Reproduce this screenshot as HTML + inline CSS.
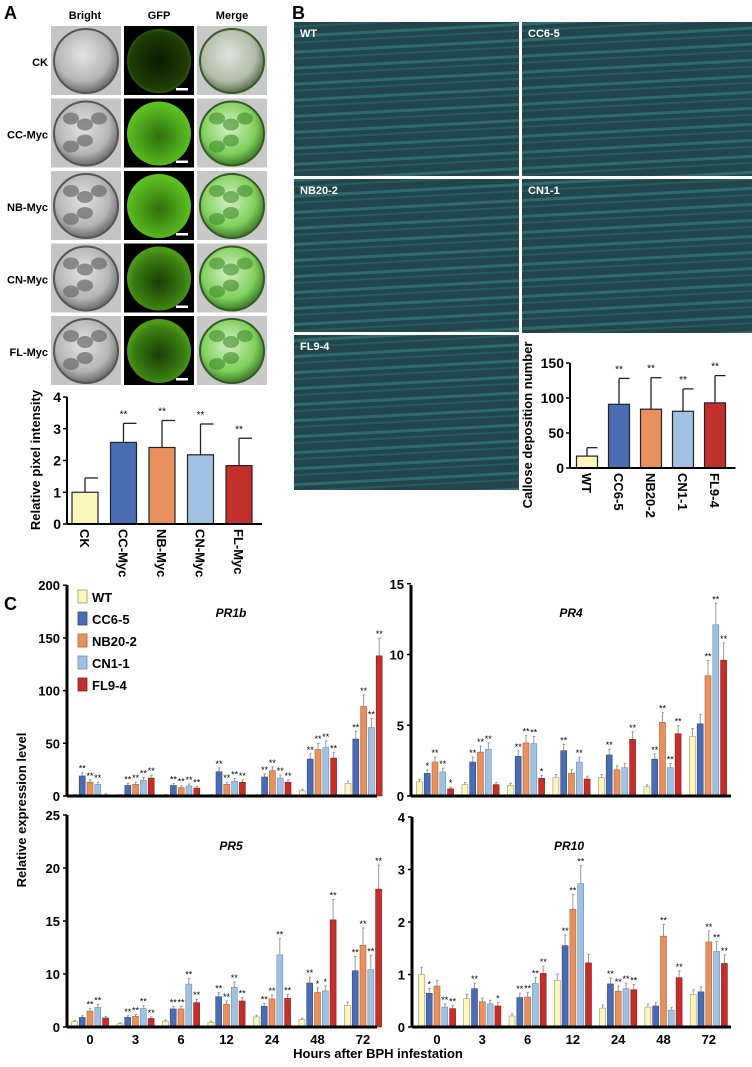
<!DOCTYPE html>
<html><head><meta charset="utf-8">
<style>
body{margin:0;background:#fff;width:752px;height:1062px;overflow:hidden;position:relative;font-family:"Liberation Sans",Arial,sans-serif;}
svg text{font-family:"Liberation Sans",Arial,sans-serif;}
</style></head>
<body>
<svg id="fig" width="752" height="1062" viewBox="0 0 752 1062" xmlns="http://www.w3.org/2000/svg">
<defs>
<radialGradient id="gBright" cx="45%" cy="40%" r="60%"><stop offset="0" stop-color="#e4e4e4"/><stop offset="0.7" stop-color="#b5b5b5"/><stop offset="1" stop-color="#6a6a6a"/></radialGradient>
<radialGradient id="gGfpDim" cx="50%" cy="50%" r="50%"><stop offset="0" stop-color="#0b1a00"/><stop offset="0.9" stop-color="#1f3d05"/><stop offset="1" stop-color="#2d5a08"/></radialGradient>
<radialGradient id="gGfp" cx="50%" cy="55%" r="50%"><stop offset="0" stop-color="#2f6e0a"/><stop offset="0.7" stop-color="#4fa81c"/><stop offset="1" stop-color="#5cbf22"/></radialGradient>
<radialGradient id="gGfpMid" cx="50%" cy="55%" r="50%"><stop offset="0" stop-color="#1a3e04"/><stop offset="0.8" stop-color="#3a7e12"/><stop offset="1" stop-color="#4c9a18"/></radialGradient>
<radialGradient id="gMerge" cx="45%" cy="40%" r="60%"><stop offset="0" stop-color="#d8f2c8"/><stop offset="0.7" stop-color="#7fcf5a"/><stop offset="1" stop-color="#3e7a2a"/></radialGradient>
<radialGradient id="gMergeCK" cx="45%" cy="40%" r="60%"><stop offset="0" stop-color="#e0e4dc"/><stop offset="0.7" stop-color="#b2bcaa"/><stop offset="1" stop-color="#5c6e50"/></radialGradient>
<pattern id="fib" width="230" height="16" patternUnits="userSpaceOnUse" patternTransform="rotate(-3)">
<rect width="230" height="16" fill="#234c50"/>
<rect y="2" width="230" height="3" fill="#4d9e9c" opacity="0.55"/>
<rect y="9" width="230" height="2" fill="#3b8080" opacity="0.5"/>
</pattern>
</defs>
<g id="panelA"></g>
<g id="panelB"></g>
<g id="chartA"></g>
<g id="chartB"></g>
<g id="chartC"></g>
</svg>
<script>
// ---- Panel A chart data ----
const aCats=["CK","CC-Myc","NB-Myc","CN-Myc","FL-Myc"];
const aVals=[1.0,2.57,2.41,2.18,1.84];
const aErrs=[0.45,0.6,0.85,0.97,0.86];
const aStars=["","**","**","**","**"];
const aTicks=[0,1,2,3,4];
// ---- Panel B chart data ----
const bCats=["WT","CC6-5","NB20-2","CN1-1","FL9-4"];
const bVals=[17,91,84,81,93];
const bErrs=[12,37,45,32,39];
const bStars=["","**","**","**","**"];
const bTicks=[0,50,100,150];
// ---- Panel C data ----
const hours=["0","3","6","12","24","48","72"];
const lines=["WT","CC6-5","NB20-2","CN1-1","FL9-4"];
const pr1bVals=[[0.5,0.5,0.5,0.5,0.5,5,12],[19,10,10,23,18,35,54],[13,11,8,11,24,44,85],[11,15,9.5,14,17,46,65],[1,17,7.5,13,13,36,133]];
const pr1bStars=[["","","","","","",""],["**","**","**","**","**","**","**"],["**","**","**","**","**","**","**"],["**","**","**","**","**","**","**"],["","**","**","**","**","**","**"]];
const pr4Vals=[[1.0,0.8,0.75,1.3,1.3,0.65,4.2],[1.6,2.4,2.8,3.2,2.9,2.6,5.1],[2.4,3.1,3.75,1.6,1.85,5.2,8.5],[1.7,3.3,3.7,2.4,2.0,2.0,12.1],[0.5,0.8,1.25,1.2,4.0,4.4,9.6]];
const pr4Stars=[["","","","","","",""],["*","**","**","**","**","**",""],["**","**","**","","","**","**"],["**","**","**","**","","**","**"],["*","","*","","**","**","**"]];
const pr5Vals=[[1.0,0.6,1.1,0.9,1.9,1.4,4.1],[1.8,1.8,3.4,5.7,3.9,8.3,10.4],[3.0,2.0,3.4,4.3,5.3,6.5,12.8],[3.7,3.5,8.1,7.5,11.9,6.8,10.5],[1.7,1.6,4.6,4.9,5.4,15.2,18.1]];
const pr5Stars=[["","","","","","",""],["","**","**","**","**","**","**"],["**","**","**","**","**","*","**"],["**","**","**","**","**","*","**"],["","**","**","**","**","**","**"]];
const pr10Vals=[[1.0,0.54,0.21,0.89,0.36,0.38,0.62],[0.64,0.73,0.56,1.55,0.82,0.40,0.67],[0.78,0.48,0.57,2.24,0.68,1.73,1.62],[0.38,0.44,0.83,2.73,0.73,0.32,1.44],[0.35,0.40,1.02,1.22,0.71,0.94,1.21]];
const pr10Stars=[["","","","","","",""],["*","**","**","**","**","",""],["","","**","**","**","**","**"],["**","","**","**","**","","**"],["**","*","**","","**","**","**"]];
const pr1bTicks=[0,50,100,150,200];
const pr4Ticks=[0,5,10,15];
const pr5Ticks=[0,10,15,20,25];
const pr10Ticks=[0,1,2,3,4];

const colors=["#fcf8bd","#4a6cb3","#e9915e","#9fc2e2","#c3302b"];
const strokes=["#9a9670","#2f4a80","#a8613a","#6f8fae","#8a1d1a"];
const NS="http://www.w3.org/2000/svg";
function mk(parent,tag,attrs,name,text){
  const e=document.createElementNS(NS,tag);
  for(const k in attrs)e.setAttribute(k,attrs[k]);
  
  
  if(text!==undefined)e.textContent=text;
  parent.appendChild(e);return e;
}

// ---- Panel A micrographs ----
const pA=document.getElementById('panelA');
mk(pA,'text',{x:4,y:19,'font-size':18,'font-weight':'bold'},'panel-a-label','A');
const colX=[51,124,197], colW=70;
[["Bright",85],["GFP",159],["Merge",232]].forEach(c=>mk(pA,'text',{x:c[1],y:19,'font-size':11,'font-weight':'bold','text-anchor':'middle'},'column-header',c[0]));
const rowNames=["CK","CC-Myc","NB-Myc","CN-Myc","FL-Myc"];
rowNames.forEach((r,i)=>{
  const y=26+i*72.5;
  mk(pA,'text',{x:48,y:y+40,'font-size':11,'font-weight':'bold','text-anchor':'end'},'row-label',r);
  const cx=35,cy=35;
  const g1=mk(pA,'g',{transform:`translate(${colX[0]},${y})`},'bright-image');
  mk(g1,'rect',{width:colW,height:69,fill:'#c4c4c4'},'image-bg');
  mk(g1,'circle',{cx,cy,r:32,fill:'url(#gBright)',stroke:'#555','stroke-width':2},'cell');
  if(i>0){for(let k=0;k<5;k++){mk(g1,'ellipse',{cx:20+(k%3)*14,cy:20+Math.floor(k/3)*22+(k%2)*6,rx:8,ry:6,fill:'#6a6a6a',opacity:0.7},'chloroplast');}}
  const g2=mk(pA,'g',{transform:`translate(${colX[1]},${y})`},'gfp-image');
  mk(g2,'rect',{width:colW,height:69,fill:'#000'},'image-bg');
  const gf=i==0?'url(#gGfpDim)':(i==3||i==4)?'url(#gGfpMid)':'url(#gGfp)';
  mk(g2,'circle',{cx,cy,r:32,fill:gf},'cell-fluorescence');
  mk(g2,'rect',{x:52,y:62,width:12,height:2.5,fill:'#fff'},'scale-bar');
  const g3=mk(pA,'g',{transform:`translate(${colX[2]},${y})`},'merge-image');
  mk(g3,'rect',{width:colW,height:69,fill:'#c8c8c8'},'image-bg');
  mk(g3,'circle',{cx,cy,r:32,fill:i==0?'url(#gMergeCK)':'url(#gMerge)',stroke:'#355a28','stroke-width':2},'cell');
  if(i>0){for(let k=0;k<5;k++){mk(g3,'ellipse',{cx:20+(k%3)*14,cy:20+Math.floor(k/3)*22+(k%2)*6,rx:8,ry:6,fill:'#3d8a2a',opacity:0.6},'chloroplast');}}
});

// ---- Panel B micrographs ----
const pB=document.getElementById('panelB');
mk(pB,'text',{x:292,y:19,'font-size':18,'font-weight':'bold'},'panel-b-label','B');
const bImgs=[["WT",294,22,225,154],["CC6-5",522,22,230,154],["NB20-2",294,179,225,153],["CN1-1",522,179,230,154],["FL9-4",294,335,225,155]];
bImgs.forEach(b=>{
  const g=mk(pB,'g',{},'callose-image-'+b[0].toLowerCase());
  mk(g,'rect',{x:b[1],y:b[2],width:b[3],height:b[4],fill:'url(#fib)'},'fiber-texture');
  mk(g,'rect',{x:b[1],y:b[2],width:b[3],height:b[4],fill:'#153238',opacity:0.2},'shade');
  mk(g,'text',{x:b[1]+6,y:b[2]+15,'font-size':11,'font-weight':'bold',fill:'#fff'},'image-label',b[0]);
});
mk(pB,'rect',{x:519,y:333,width:233,height:200,fill:'#fff'},'chart-bg');

function simpleChart(gid,cats,vals,errs,stars,ticks,ax,y0,yTop,vmax,cx0,step,bw,ylabel,ylx,yly){
  const g=document.getElementById(gid);
  const sy=v=>y0-(v/vmax)*(y0-yTop);
  const xEnd=cx0+step*(cats.length-1)+bw/2+10;
  ticks.forEach(t=>{
    mk(g,'line',{x1:ax-4,x2:ax,y1:sy(t),y2:sy(t),stroke:'#000','stroke-width':1.5},'y-tick');
    mk(g,'text',{x:ax-6,y:sy(t)+5,'font-size':14,'font-weight':'bold','text-anchor':'end'},'y-tick-label',t);
  });
  cats.forEach((c,i)=>{
    const cx=cx0+i*step, v=vals[i];
    mk(g,'line',{x1:cx,x2:cx,y1:sy(v),y2:sy(v+errs[i]),stroke:'#222','stroke-width':1.3},'error-bar');
    mk(g,'line',{x1:cx,x2:cx+bw/2,y1:sy(v+errs[i]),y2:sy(v+errs[i]),stroke:'#222','stroke-width':1.3},'error-cap');
    mk(g,'rect',{x:cx-bw/2,y:sy(v),width:bw,height:y0-sy(v),fill:colors[i],stroke:'#222','stroke-width':1.2},'bar-'+c.toLowerCase());
    if(stars[i])mk(g,'text',{x:cx,y:sy(v+errs[i])-6,'font-size':10,'text-anchor':'middle'},'significance',stars[i]);
    mk(g,'text',{transform:`translate(${cx-5},${y0+5}) rotate(90)`,'font-size':13,'font-weight':'bold'},'x-tick-label',c);
  });
  mk(g,'line',{x1:ax,x2:ax,y1:yTop,y2:y0,stroke:'#000','stroke-width':2},'y-axis');
  mk(g,'line',{x1:ax,x2:xEnd,y1:y0,y2:y0,stroke:'#000','stroke-width':2},'x-axis');
  mk(g,'text',{transform:`translate(${ylx},${yly}) rotate(-90)`,'font-size':13,'font-weight':'bold','text-anchor':'middle'},'y-axis-title',ylabel);
}
simpleChart('chartA',aCats,aVals,aErrs,aStars,aTicks,67,524,397,4,85,38.5,26,'Relative pixel intensity',40,460);
simpleChart('chartB',bCats,bVals,bErrs,bStars,bTicks,570,468,363,150,587,32,21,'Callose deposition number',532,425);

// ---- Panel C ----
const gC=document.getElementById('chartC');
mk(gC,'text',{x:4,y:610,'font-size':18,'font-weight':'bold'},'panel-c-label','C');
function exprChart(name,vals,stars,ticks,tickPos,scale,ax,y0,yTop,cx0,gstep,xEnd,title,tx,ty,showX){
  const g=mk(gC,'g',{},'chart-'+name.toLowerCase());
  ticks.forEach((t,i)=>{
    const y=tickPos(t,i);
    mk(g,'line',{x1:ax-4,x2:ax,y1:y,y2:y,stroke:'#000','stroke-width':1.5},'y-tick');
    mk(g,'text',{x:ax-7,y:y+5,'font-size':13,'font-weight':'bold','text-anchor':'end'},'y-tick-label',t);
  });
  hours.forEach((h,gi)=>{
    const c=cx0+gi*gstep;
    for(let s=0;s<5;s++){
      const v=vals[s][gi], bx=c+(s-2)*7.8, e=v*0.12+(ticks[ticks.length-1]*0.004);
      const yv=scale(v), ye=scale(v+e);
      mk(g,'line',{x1:bx,x2:bx,y1:yv,y2:ye,stroke:'#999','stroke-width':1},'error-bar');
      mk(g,'line',{x1:bx-1,x2:bx+1.5,y1:ye,y2:ye,stroke:'#999','stroke-width':1},'error-cap');
      mk(g,'rect',{x:bx-3,y:yv,width:6,height:Math.max(0.5,y0-yv),fill:colors[s],stroke:strokes[s],'stroke-width':0.6},'bar-'+lines[s].toLowerCase()+'-'+h+'h');
      if(stars[s][gi])mk(g,'text',{x:bx,y:ye-1,'font-size':9,'text-anchor':'middle'},'significance',stars[s][gi]);
    }
    if(showX)mk(g,'text',{x:c,y:y0+17,'font-size':13,'font-weight':'bold','text-anchor':'middle'},'x-tick-label',h);
  });
  mk(g,'line',{x1:ax,x2:ax,y1:yTop,y2:y0,stroke:'#000','stroke-width':3},'y-axis');
  mk(g,'line',{x1:ax,x2:xEnd,y1:y0,y2:y0,stroke:'#000','stroke-width':3},'x-axis');
  mk(g,'text',{x:tx,y:ty,'font-size':12,'font-weight':'bold','font-style':'italic','text-anchor':'middle'},'chart-title',title);
}
const s1=v=>796-v*1.054;
exprChart('PR1b',pr1bVals,pr1bStars,pr1bTicks,t=>s1(t),s1,67,796,585,90,45.6,377,'PR1b',231,617,false);
const s4=v=>796-v*14.15;
exprChart('PR4',pr4Vals,pr4Stars,pr4Ticks,t=>s4(t),s4,411,796,585,435,45.5,731,'PR4',571,617,false);
const s5=v=>v<=10?1027-v*5.3:975-(v-10)*10.6;
exprChart('PR5',pr5Vals,pr5Stars,pr5Ticks,(t,i)=>1027-i*53,s5,67,1027,815,90,45.5,377,'PR5',231,850,true);
const s10=v=>1027-v*52.5;
exprChart('PR10',pr10Vals,pr10Stars,pr10Ticks,t=>s10(t),s10,412,1027,817,437,45.3,731,'PR10',569,850,true);
const lg=mk(gC,'g',{},'legend');
lines.forEach((l,i)=>{
  const y=590+i*22;
  const it=mk(lg,'g',{},'legend-entry');
  mk(it,'rect',{x:78,y:y,width:9,height:13,fill:colors[i],stroke:strokes[i],'stroke-width':0.8},'legend-swatch');
  mk(it,'text',{x:92,y:y+12,'font-size':13,'font-weight':'bold'},'legend-label',l);
});
mk(gC,'text',{transform:'translate(26,810) rotate(-90)','font-size':13,'font-weight':'bold','text-anchor':'middle'},'y-axis-title','Relative expression level');
mk(gC,'text',{x:378,y:1058,'font-size':13,'font-weight':'bold','text-anchor':'middle'},'x-axis-title','Hours after BPH infestation');
</script>
</body></html>
